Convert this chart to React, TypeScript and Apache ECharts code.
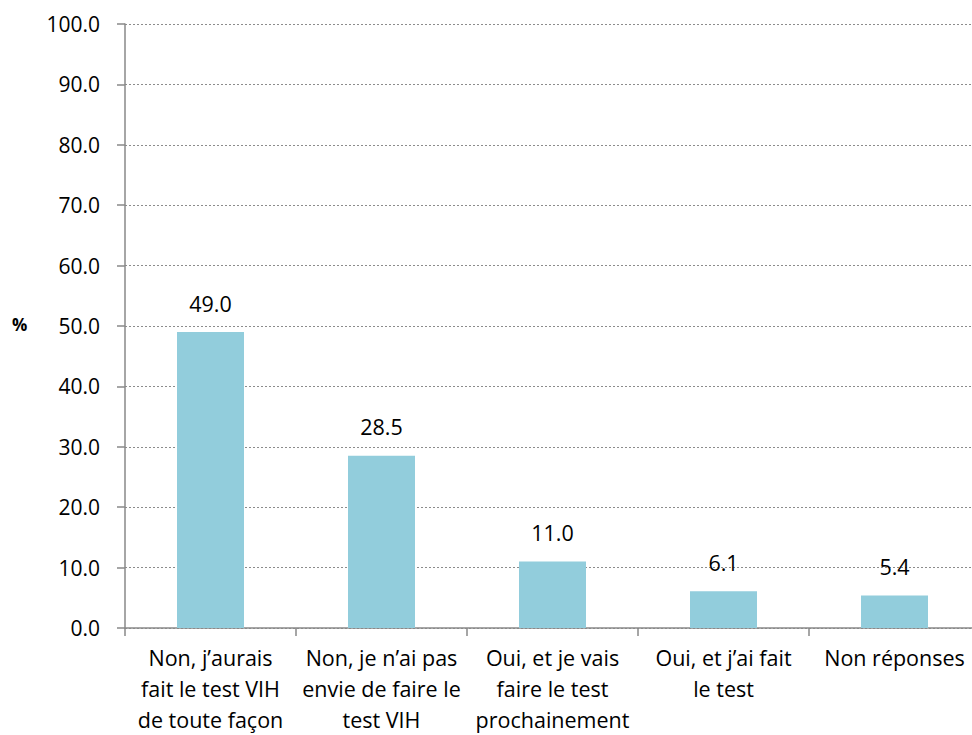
import React, { useEffect, useRef } from "react";
import * as echarts from "echarts";

const categories = [
  "Non, j’aurais\nfait le test VIH\nde toute façon",
  "Non, je n’ai pas\nenvie de faire le\ntest VIH",
  "Oui, et je vais\nfaire le test\nprochainement",
  "Oui, et j’ai fait\nle test",
  "Non réponses",
];
const values = [49.0, 28.5, 11.0, 6.1, 5.4];
const yTicks = { min: 0, max: 100, interval: 10 };
const yAxisTitle = "%";

export default function App() {
  const ref = useRef<HTMLDivElement>(null);
  useEffect(() => {
    document.body.style.margin = "0";
    const chart = echarts.init(ref.current!, null, { renderer: "svg" });
    const font = "'Open Sans', 'Noto Sans', sans-serif";
    chart.setOption({
      animation: false,
      backgroundColor: "#ffffff",
      grid: { left: 125, top: 24, right: 1, height: 605, containLabel: false },
      graphic: [
        {
          type: "text",
          left: 12,
          top: 316,
          style: { text: yAxisTitle, font: `bold 17px ${font}`, fill: "#000" },
        },
      ],
      xAxis: {
        type: "category",
        data: categories,
        axisLine: { lineStyle: { color: "#898989", width: 1.5 } },
        axisTick: { show: true, length: 8, alignWithLabel: false, lineStyle: { color: "#898989", width: 1.5 } },
        axisLabel: {
          interval: 0,
          color: "#000",
          fontSize: 21.5,
          fontFamily: font,
          lineHeight: 31,
          margin: 14,
        },
      },
      yAxis: {
        type: "value",
        min: yTicks.min,
        max: yTicks.max,
        interval: yTicks.interval,
        axisLine: { show: true, lineStyle: { color: "#898989", width: 1.5 } },
        axisTick: { show: true, inside: false, length: 8, lineStyle: { color: "#898989", width: 1.5 } },
        axisLabel: {
          color: "#000",
          fontSize: 21,
          fontFamily: font,
          margin: 25,
          formatter: (v: number) => v.toFixed(1),
        },
        splitLine: { show: true, lineStyle: { color: "#8c8c8c", type: [2, 2], width: 1 } },
      },
      series: [
        {
          type: "bar",
          data: values,
          barWidth: 67,
          itemStyle: { color: "#92CDDC" },
          label: {
            show: true,
            position: "top",
            distance: 18,
            color: "#000",
            fontSize: 21.5,
            fontFamily: font,
            formatter: (p: any) => Number(p.value).toFixed(1),
          },
        },
      ],
    });
    return () => chart.dispose();
  }, []);
  return (
    <div style={{ width: 972, height: 735, overflow: "hidden", position: "relative" }}>
      <div ref={ref} style={{ width: 981, height: 735 }} />
    </div>
  );
}
